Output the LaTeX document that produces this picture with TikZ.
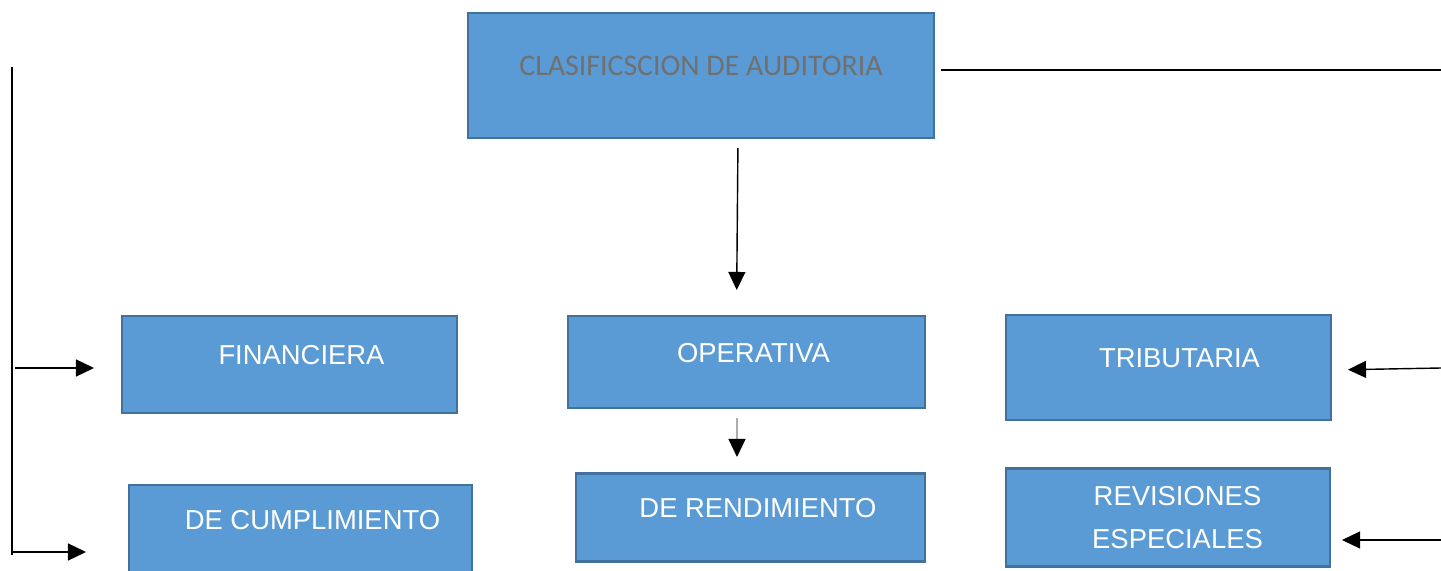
\documentclass[tikz,border=0pt]{standalone}
\usepackage{fontspec}
\setmainfont{Liberation Sans}
\newfontfamily\titlefont{Carlito}
\usetikzlibrary{arrows.meta,positioning}
\definecolor{boxfill}{RGB}{91,155,213}
\definecolor{boxline}{RGB}{65,113,156}
\definecolor{titlegray}{RGB}{112,112,112}

\begin{document}
\begin{tikzpicture}
    [x=0.02cm,y=-0.02cm,
     box/.style={draw=boxline,fill=boxfill,line width=1.2pt,inner sep=0pt,
       text=white,font=\fontsize{15.6}{24.4}\selectfont,align=center},
     onbase/.style={text height=0pt,text depth=0pt},
     nudge/.style={execute at begin node={\hspace*{#1}}},
     link/.style={line width=0.8pt},
     arr/.style={link,-{Triangle[length=0.36cm,width=0.34cm,color=black]}}]
    \useasboundingbox (0,0) rectangle (1441,571);

    \node (title) [box,onbase,minimum width=9.32cm,minimum height=2.5cm,
      text=titlegray,font=\titlefont\fontsize{17}{20}\selectfont]
      at (701,75.5) {CLASIFICSCION DE AUDITORIA};
    \node (fin) [box,onbase,nudge=0.48cm,minimum width=6.7cm,minimum height=1.94cm]
      at (289.5,364.5) {FINANCIERA};
    \node (oper) [box,onbase,nudge=0.28cm,minimum width=7.14cm,minimum height=1.84cm]
      at (746.5,362) {OPERATIVA};
    \node (trib) [box,onbase,nudge=0.44cm,minimum width=6.5cm,minimum height=2.1cm]
      at (1168.5,367.5) {TRIBUTARIA};
    \node (cump) [box,onbase,nudge=0.48cm,minimum width=6.86cm,minimum height=1.76cm]
      at (300.5,529) {DE CUMPLIMIENTO};
    \node (rend) [box,onbase,nudge=0.3cm,minimum width=6.98cm,minimum height=1.76cm]
      at (750.5,517.5) {DE RENDIMIENTO};
    \node (rev) [box,minimum width=6.48cm,minimum height=1.96cm]
      at (1168,517.5) {\hspace*{0.38cm}REVISIONES\\\hspace*{0.38cm}ESPECIALES};

    % left branch
    \coordinate (ltop) at (12,67);
    \coordinate (lbot) at (12,555);
    \coordinate (lfin) at (15,368);
    \coordinate (lcump) at (12,552);
    \draw[link] (ltop) -- (lbot);
    \draw[arr,shorten >=0.54cm] (lfin) -- (lfin -| fin.west);
    \draw[arr,shorten >=0.84cm] (lcump) -- (lcump -| cump.west);

    % middle
    \draw[arr,shorten <=0.18cm,shorten >=0.5cm]
      ([xshift=0.74cm]title.south) -- ([xshift=-0.2cm]oper.north);
    \draw[arr,draw=gray,shorten <=0.18cm,shorten >=0.31cm]
      ([xshift=-0.19cm]oper.south) -- ([xshift=-0.27cm]rend.north);

    % right branch
    \coordinate (rtop) at (1441,70);
    \coordinate (rtrib) at (1441,368);
    \coordinate (rrev) at (1441,540);
    \draw[link,shorten <=0.12cm] (title.east |- rtop) -- (rtop);
    \draw[arr,shorten >=0.32cm] (rtrib) -- ([yshift=-0.05cm]trib.east);
    \draw[arr,shorten >=0.22cm] (rrev) -- (rrev -| rev.east);
\end{tikzpicture}
\end{document}
